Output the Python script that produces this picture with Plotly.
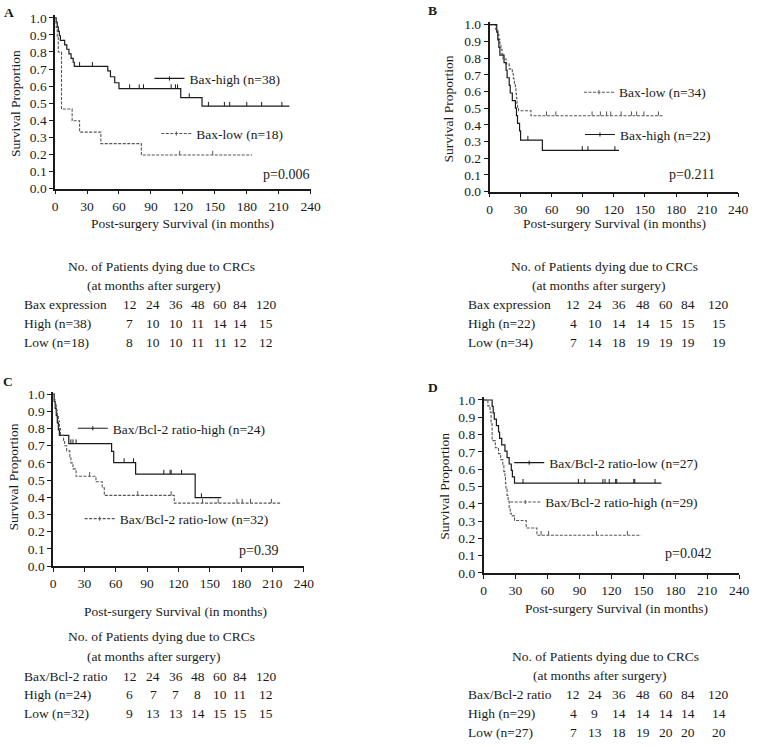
import plotly.graph_objects as go

# ---------------- DATA ----------------
x_ticks = [0, 30, 60, 90, 120, 150, 180, 210, 240]
y_ticks = [0.0, 0.1, 0.2, 0.3, 0.4, 0.5, 0.6, 0.7, 0.8, 0.9, 1.0]

# Panel A : Bax expression
A_high_name = "Bax-high (n=38)"
A_high_t = [1, 2, 3, 4, 5, 9, 11, 13, 15, 17, 18, 49.5, 52, 56, 60, 118, 138]
A_high_s = [0.974, 0.947, 0.921, 0.895, 0.868, 0.842, 0.816, 0.789, 0.763, 0.74, 0.716,
            0.69, 0.655, 0.62, 0.586, 0.533, 0.483]
A_high_cens = [23, 35, 70, 79, 83, 109, 113, 115, 126, 144, 159, 164, 180, 194, 213]
A_high_end = 220
A_low_name = "Bax-low (n=18)"
A_low_t = [1, 2, 3, 6, 16, 23, 43, 81]
A_low_s = [0.944, 0.889, 0.8, 0.466, 0.398, 0.331, 0.264, 0.197]
A_low_cens = [117, 148]
A_low_end = 185

# Panel B : Bax expression
B_low_name = "Bax-low (n=34)"
B_low_t = [6, 8, 9, 10, 11, 12, 13, 16, 19, 22, 23, 24, 25, 25.5, 26, 26.5, 27, 28, 40]
B_low_s = [0.971, 0.941, 0.912, 0.882, 0.853, 0.824, 0.794, 0.765, 0.735, 0.706, 0.676,
           0.647, 0.618, 0.588, 0.559, 0.529, 0.50, 0.485, 0.455]
B_low_cens = [55, 64, 99, 107, 113, 117, 127, 137, 142, 149, 163]
B_low_end = 168
B_high_name = "Bax-high (n=22)"
B_high_t = [7, 8, 9, 10, 14, 16, 17, 19, 20, 22, 25, 26, 27, 29, 30, 51]
B_high_s = [0.955, 0.909, 0.864, 0.818, 0.773, 0.727, 0.682, 0.636, 0.591, 0.545, 0.50,
            0.455, 0.409, 0.364, 0.309, 0.247]
B_high_cens = [37, 89.5, 95, 121]
B_high_end = 125

# Panel C : Bax/Bcl-2 ratio
C_high_name = "Bax/Bcl-2 ratio-high (n=24)"
C_high_t = [1, 2, 3, 4, 5, 6, 15, 56, 58, 79, 136]
C_high_s = [0.958, 0.917, 0.875, 0.833, 0.792, 0.76, 0.712, 0.667, 0.602, 0.535, 0.398]
C_high_cens = [17, 19, 22, 68, 77, 106, 112, 113, 123, 142]
C_high_end = 161
C_low_name = "Bax/Bcl-2 ratio-low (n=32)"
C_low_t = [1, 2, 3, 4, 5, 6, 7, 10, 11, 13, 16, 17, 19, 22, 41, 47, 49, 116]
C_low_s = [0.969, 0.938, 0.906, 0.875, 0.844, 0.8, 0.76, 0.73, 0.70, 0.67, 0.635, 0.60,
           0.565, 0.522, 0.49, 0.455, 0.411, 0.366]
C_low_cens = [35, 81, 113, 143, 158, 176, 181, 189, 209]
C_low_end = 218

# Panel D : Bax/Bcl-2 ratio
D_low_name = "Bax/Bcl-2 ratio-low (n=27)"
D_low_t = [8, 9, 10, 12, 14, 15, 17, 20, 22, 24, 26, 27, 29]
D_low_s = [0.963, 0.926, 0.889, 0.852, 0.815, 0.778, 0.741, 0.704, 0.667, 0.63, 0.593,
           0.556, 0.519]
D_low_cens = [37, 89, 95, 112, 114, 118, 124, 125, 141, 142, 161]
D_low_end = 167
D_high_name = "Bax/Bcl-2 ratio-high (n=29)"
D_high_t = [4, 6, 7, 8, 11, 14, 16, 18, 19, 20, 20.5, 21, 22, 23, 24, 25, 26, 29, 40, 50]
D_high_s = [0.966, 0.931, 0.862, 0.765, 0.724, 0.69, 0.655, 0.621, 0.586, 0.552, 0.517,
            0.483, 0.448, 0.414, 0.379, 0.345, 0.33, 0.303, 0.26, 0.218]
D_high_cens = [54, 61, 106, 135]
D_high_end = 148

p_values = ["p=0.006", "p=0.211", "p=0.39", "p=0.042"]
panel_labels = ["A", "B", "C", "D"]

# Tables: number of patients dying due to CRCs
table_title = "No. of Patients dying due to CRCs"
table_sub = "(at months after surgery)"
table_months = ["12", "24", "36", "48", "60", "84", "120"]
A_tab_head = "Bax expression"
A_tab_rows = ["High (n=38)", "Low (n=18)"]
A_tab_high = [7, 10, 10, 11, 14, 14, 15]
A_tab_low = [8, 10, 10, 11, 11, 12, 12]
B_tab_head = "Bax expression"
B_tab_rows = ["High (n=22)", "Low (n=34)"]
B_tab_high = [4, 10, 14, 14, 15, 15, 15]
B_tab_low = [7, 14, 18, 19, 19, 19, 19]
C_tab_head = "Bax/Bcl-2 ratio"
C_tab_rows = ["High (n=24)", "Low (n=32)"]
C_tab_high = [6, 7, 7, 8, 10, 11, 12]
C_tab_low = [9, 13, 13, 14, 15, 15, 15]
D_tab_head = "Bax/Bcl-2 ratio"
D_tab_rows = ["High (n=29)", "Low (n=27)"]
D_tab_high = [4, 9, 14, 14, 14, 14, 14]
D_tab_low = [7, 13, 18, 19, 20, 20, 20]

x_title = "Post-surgery Survival (in months)"
y_title = "Survival Proportion"

# ---------------- LAYOUT HELPERS ----------------
W, H = 759, 747
FONT = "Liberation Serif"
INK = "#1a1a1a"
DASH_INK = "#555555"
Y_TOP = 1.015
TXT = 13.5


def px(x):
    return x / W


def py(y):
    return 1 - y / H


# pixel geometry of each panel (x of 0 / 240 months, y of 0.0 / 1.0)
geom = {
    "A": dict(x0=53, x1=313, y0=187, y1=13, xt=(183, 222), yt=(12, 100),
              lab=(6, 8), p=(313, 172),
              tab=dict(left=19, title_x=161, sub_x=154, ys=[266, 285, 305, 324, 343],
                       cols=[129, 153, 176, 198, 221, 241, 268])),
    "B": dict(x0=495, x1=748, y0=190, y1=20, xt=(622, 222), yt=(453, 106),
              lab=(437, 6), p=(726, 172),
              tab=dict(left=471, title_x=612, sub_x=606, ys=[266, 285, 305, 324, 343],
                       cols=[580, 602, 627, 651, 675, 697, 728])),
    "C": dict(x0=51, x1=306, y0=571, y1=396, xt=(176, 617), yt=(11, 480),
              lab=(5, 383), p=(282, 555),
              tab=dict(left=19, title_x=161, sub_x=154, ys=[643, 663, 683, 702, 721],
                       cols=[129, 153, 176, 198, 221, 241, 268])),
    "D": dict(x0=489, x1=749, y0=578, y1=402, xt=(624, 614), yt=(449, 490),
              lab=(437, 389), p=(722, 558),
              tab=dict(left=471, title_x=613, sub_x=607, ys=[663, 682, 702, 721, 740],
                       cols=[580, 602, 627, 651, 675, 697, 728])),
}

series = {
    "A": [(A_high_name, A_high_t, A_high_s, A_high_cens, A_high_end, False, (197, 77)),
          (A_low_name, A_low_t, A_low_s, A_low_cens, A_low_end, True, (204, 133))],
    "B": [(B_low_name, B_low_t, B_low_s, B_low_cens, B_low_end, True, (634, 91)),
          (B_high_name, B_high_t, B_high_s, B_high_cens, B_high_end, False, (635, 134))],
    "C": [(C_high_name, C_high_t, C_high_s, C_high_cens, C_high_end, False, (119, 433)),
          (C_low_name, C_low_t, C_low_s, C_low_cens, C_low_end, True, (126, 525))],
    "D": [(D_low_name, D_low_t, D_low_s, D_low_cens, D_low_end, False, (563, 468)),
          (D_high_name, D_high_t, D_high_s, D_high_cens, D_high_end, True, (559, 508))],
}

tables = {
    "A": (A_tab_head, A_tab_rows, A_tab_high, A_tab_low),
    "B": (B_tab_head, B_tab_rows, B_tab_high, B_tab_low),
    "C": (C_tab_head, C_tab_rows, C_tab_high, C_tab_low),
    "D": (D_tab_head, D_tab_rows, D_tab_high, D_tab_low),
}

LEG_TEXT_DX = 48   # legend box left edge -> legend text start (px)
LEG_DY = -2        # legend vertical correction (px)


def surv_at(t, times, surv):
    s = 1.0
    for ti, si in zip(times, surv):
        if ti <= t:
            s = si
    return s


def note(text, x, y, xanchor="center", angle=0, size=TXT):
    return dict(text=text, x=px(x), y=py(y), xref="paper", yref="paper",
                xanchor=xanchor, yanchor="middle", showarrow=False, textangle=angle,
                font=dict(family=FONT, size=size, color=INK))


fig = go.Figure()
annotations = []
layout = {}
legend_idx = 0

for i, key in enumerate(panel_labels):
    g = geom[key]
    n = "" if i == 0 else str(i + 1)
    xa, ya = "x" + n, "y" + n
    ppu = g["y0"] - g["y1"]
    top_px = g["y1"] - (Y_TOP - 1.0) * ppu
    axis_style = dict(showline=True, linecolor=INK, linewidth=1.5, ticks="outside",
                      ticklen=4, tickwidth=1.3, tickcolor=INK, showgrid=False,
                      zeroline=False, tickfont=dict(family=FONT, size=TXT, color=INK),
                      fixedrange=True)
    layout["xaxis" + n] = dict(axis_style, domain=[px(g["x0"]), px(g["x1"])],
                               range=[0, 240], tickvals=x_ticks, anchor=ya)
    layout["yaxis" + n] = dict(axis_style, domain=[py(g["y0"]), py(top_px)],
                               range=[0, Y_TOP], tickvals=y_ticks, tickformat=".1f",
                               anchor=xa)
    off = 2.2 / ppu  # censor ticks sit just above the curve

    for (name, t, s, cens, end, dashed, leg_pos) in series[key]:
        color = DASH_INK if dashed else INK
        dash = "3px,1.5px" if dashed else "solid"
        lw = 1.1 if dashed else 1.2
        xs = [0] + list(t) + [end]
        ys = [1.0] + list(s) + [s[-1]]
        fig.add_trace(go.Scatter(x=xs, y=ys, mode="lines", line_shape="hv",
                                 line=dict(color=color, width=lw, dash=dash),
                                 xaxis=xa, yaxis=ya, showlegend=False, hoverinfo="skip"))
        cy = [surv_at(c, t, s) + off for c in cens]
        fig.add_trace(go.Scatter(x=cens, y=cy, mode="markers",
                                 marker=dict(symbol="line-ns", size=3,
                                             line=dict(color=color, width=1)),
                                 xaxis=xa, yaxis=ya, showlegend=False, hoverinfo="skip"))
        legend_idx += 1
        lname = "legend" if legend_idx == 1 else "legend" + str(legend_idx)
        fig.add_trace(go.Scatter(x=[None], y=[None], mode="lines+markers", name=name,
                                 line=dict(color=color, width=lw, dash=dash),
                                 marker=dict(symbol="line-ns", size=3,
                                             line=dict(color=color, width=1)),
                                 xaxis=xa, yaxis=ya, legend=lname, showlegend=True))
        layout[lname] = dict(x=px(leg_pos[0] - LEG_TEXT_DX), y=py(leg_pos[1] + LEG_DY),
                             xanchor="left", yanchor="middle", bgcolor="rgba(0,0,0,0)",
                             borderwidth=0, itemwidth=30,
                             font=dict(family=FONT, size=TXT, color=INK),
                             itemclick=False, itemdoubleclick=False)

    # panel label, titles, p-value
    annotations.append(note("<b>" + key + "</b>", *g["lab"]))
    annotations.append(note(x_title, *g["xt"]))
    annotations.append(note(y_title, *g["yt"], angle=-90))
    annotations.append(note(p_values[i], *g["p"], xanchor="right", size=14))

    # table
    tb = g["tab"]
    head, rows, hi, lo = tables[key]
    ys_t = tb["ys"]
    annotations.append(note(table_title, tb["title_x"], ys_t[0]))
    annotations.append(note(table_sub, tb["sub_x"], ys_t[1]))
    row_labels = [head] + rows
    row_vals = [table_months, [str(v) for v in hi], [str(v) for v in lo]]
    for r in range(3):
        annotations.append(note(row_labels[r], tb["left"], ys_t[2 + r], xanchor="left"))
        for c, v in enumerate(row_vals[r]):
            annotations.append(note(v, tb["cols"][c], ys_t[2 + r]))

fig.update_layout(width=W, height=H, margin=dict(l=0, r=0, t=0, b=0),
                  paper_bgcolor="white", plot_bgcolor="white",
                  annotations=annotations, **layout)

fig.write_html("out.html", config={"displayModeBar": False},
               post_script="document.body.style.margin='0';"
                           "document.body.style.overflow='hidden';")
